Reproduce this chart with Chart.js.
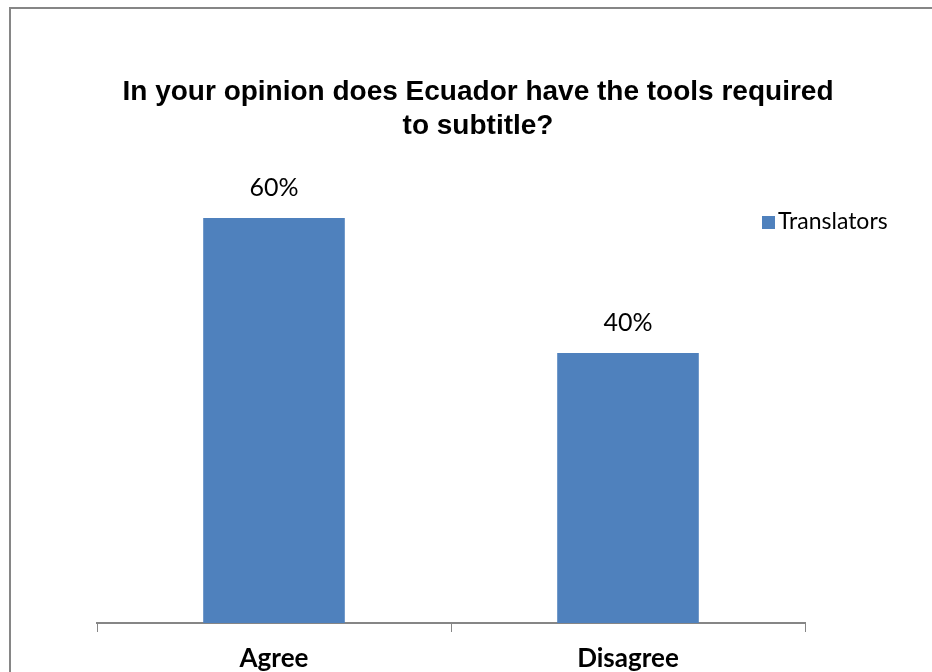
<!DOCTYPE html>
<html lang="en">
  <head>
    <meta charset="UTF-8" />
    <title>Ecuador subtitling tools</title>
    <script src="https://cdn.jsdelivr.net/npm/chart.js"></script>
    <style>
      body { margin: 0; background: #fff; }
    </style>
  </head>
  <body>
    <canvas id="myChart" width="932" height="672"></canvas>
    <script>
      const titleLines = ["In your opinion does Ecuador have the tools required", "to subtitle?"];
      const categories = ["Agree", "Disagree"];
      const seriesName = "Translators";
      const translators = [60, 40];

      const barColor = "#4F81BD";
      const axisColor = "#868686";

      // frame around the whole chart + title
      const framePlugin = {
        id: "frame",
        beforeDraw(chart) {
          const ctx = chart.ctx;
          ctx.save();
          ctx.strokeStyle = axisColor;
          ctx.lineWidth = 2;
          ctx.strokeRect(10, 8, chart.width + 20, chart.height + 20);
          ctx.font = "bold 28px 'Liberation Sans'";
          ctx.fillStyle = "#000";
          ctx.textAlign = "center";
          ctx.textBaseline = "middle";
          titleLines.forEach((line, i) => ctx.fillText(line, 478, 92 + i * 34));
          ctx.restore();
        },
      };

      // value labels above the bars
      const valueLabels = {
        id: "valueLabels",
        afterDatasetsDraw(chart) {
          const ctx = chart.ctx;
          const meta = chart.getDatasetMeta(0);
          ctx.save();
          ctx.font = "25px Lato";
          ctx.fillStyle = "#000";
          ctx.textAlign = "center";
          ctx.textBaseline = "middle";
          meta.data.forEach((bar, i) => {
            ctx.fillText(chart.data.datasets[0].data[i] + "%", bar.x, bar.y - 30);
          });
          ctx.restore();
        },
      };

      // legend box on the right
      const sideLegend = {
        id: "sideLegend",
        afterDraw(chart) {
          const ctx = chart.ctx;
          const ds = chart.data.datasets[0];
          ctx.save();
          ctx.fillStyle = ds.backgroundColor;
          ctx.fillRect(762, 216, 13, 13);
          ctx.font = "23px Lato";
          ctx.fillStyle = "#000";
          ctx.textBaseline = "middle";
          ctx.fillText(ds.label, 778, 222);
          ctx.restore();
        },
      };

      const myChart = new Chart(document.getElementById("myChart"), {
        type: "bar",
        data: {
          labels: categories,
          datasets: [
            {
              label: seriesName,
              data: translators,
              backgroundColor: barColor,
              categoryPercentage: 1,
              barPercentage: 0.4,
            },
          ],
        },
        options: {
          responsive: false,
          animation: false,
          layout: { padding: { left: 97, right: 127, top: 150.5, bottom: 0 } },
          plugins: {
            legend: { display: false },
            tooltip: { enabled: false },
            title: { display: false },
          },
          scales: {
            y: {
              display: false,
              min: 0,
              max: 70,
            },
            x: {
              afterFit: (scale) => {
                scale.height = 49;
              },
              grid: {
                drawOnChartArea: false,
                drawTicks: true,
                tickLength: 9,
                color: axisColor,
                offset: true,
              },
              border: { display: true, color: axisColor, width: 2 },
              ticks: {
                color: "#000",
                font: { family: "Lato", size: 26, weight: "bold" },
                padding: 11,
              },
            },
          },
        },
        plugins: [framePlugin, valueLabels, sideLegend],
      });
    </script>
  </body>
</html>
